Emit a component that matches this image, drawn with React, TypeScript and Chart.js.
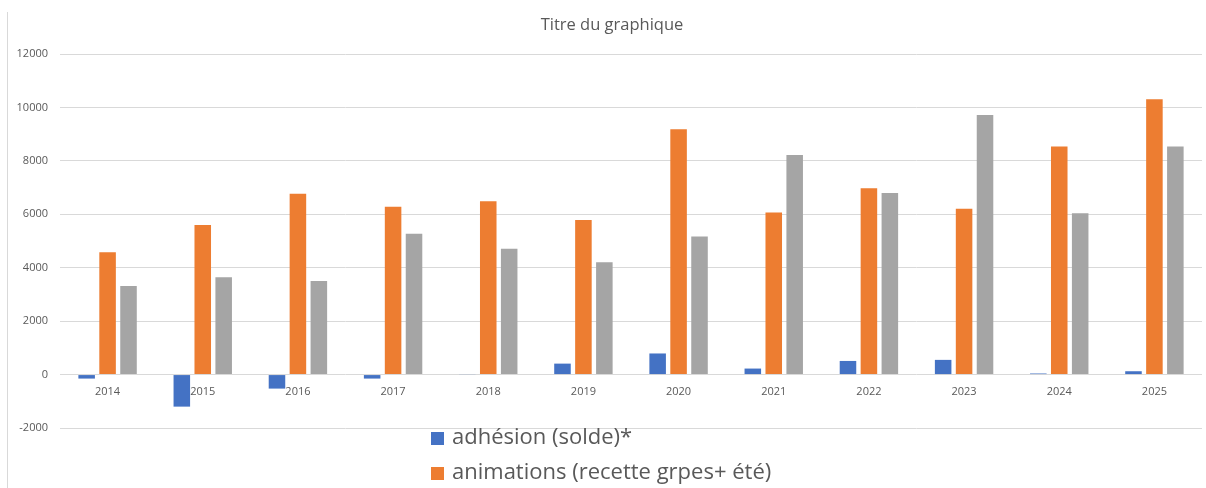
import React, { useEffect, useRef } from 'react';
import { Chart, registerables } from 'chart.js';

Chart.register(...registerables);

const categories = ['2014', '2015', '2016', '2017', '2018', '2019', '2020', '2021', '2022', '2023', '2024', '2025'];
const adhesion = [-150, -1200, -525, -150, 15, 410, 790, 225, 510, 550, 40, 125];
const animations = [4580, 5600, 6770, 6280, 6490, 5790, 9180, 6070, 6970, 6210, 8540, 10310];
const serie3 = [3320, 3640, 3500, 5270, 4710, 4200, 5170, 8220, 6800, 9720, 6040, 8540];
const seriesLabels = ['adhésion (solde)*', 'animations (recette grpes+ été)', 'Série3'];
const seriesColors = ['#4472C4', '#ED7D31', '#A5A5A5'];
const yMin = -2000;
const yMax = 12000;
const yStep = 2000;
const title = 'Titre du graphique';

const FONT = '"Open Sans", "Noto Sans", sans-serif';
const TEXT = '#595959';
const GRID = '#d9d9d9';

const decorPlugin = {
  id: 'decor',
  afterDraw(chart: any) {
    const ctx = chart.ctx;
    ctx.save();
    // frame edge
    ctx.strokeStyle = GRID;
    ctx.lineWidth = 1;
    ctx.beginPath();
    ctx.moveTo(7.5, 12);
    ctx.lineTo(7.5, chart.height);
    ctx.stroke();
    // title
    ctx.font = `16.5px ${FONT}`;
    ctx.fillStyle = TEXT;
    ctx.textAlign = 'center';
    ctx.textBaseline = 'middle';
    ctx.fillText(title, 612, 25);
    // legend
    ctx.font = `22px ${FONT}`;
    ctx.textAlign = 'left';
    chart.data.datasets.forEach((ds: any, i: number) => {
      const y = 438 + i * 35;
      ctx.fillStyle = ds.backgroundColor;
      ctx.fillRect(431, y - 6, 13, 13);
      ctx.fillStyle = TEXT;
      ctx.fillText(ds.label, 452, y);
    });
    ctx.restore();
  },
};

export default function App() {
  const ref = useRef<HTMLCanvasElement | null>(null);
  useEffect(() => {
    document.body.style.margin = '0';
    const canvas = ref.current;
    if (!canvas) return;
    const values = [adhesion, animations, serie3];
    const chart = new Chart(canvas, {
      type: 'bar',
      data: {
        labels: categories,
        datasets: values.map((v, i) => ({
          label: seriesLabels[i],
          data: v,
          backgroundColor: seriesColors[i],
          borderWidth: 0,
          categoryPercentage: 0.66,
          barPercentage: 0.79,
        })),
      },
      options: {
        responsive: false,
        animation: false,
        layout: { padding: { left: 8, right: 4, top: 54, bottom: 60 } },
        plugins: {
          legend: { display: false },
          tooltip: { enabled: false },
          title: { display: false },
        },
        scales: {
          x: {
            position: { y: 0 } as any,
            grid: { display: false, drawTicks: false },
            border: { display: false },
            ticks: { color: TEXT, font: { family: FONT, size: 11 }, padding: 11 },
          },
          y: {
            min: yMin,
            max: yMax,
            ticks: {
              stepSize: yStep,
              color: TEXT,
              font: { family: FONT, size: 11 },
              padding: 12,
              callback: (v: any) => String(v),
            },
            grid: { color: GRID, drawTicks: false },
            border: { display: false },
            afterFit: (s: any) => {
              s.width = 52;
            },
          },
        },
      },
      plugins: [decorPlugin],
    } as any);
    return () => chart.destroy();
  }, []);
  return <canvas ref={ref} width={1206} height={488} style={{ display: 'block' }} />;
}
